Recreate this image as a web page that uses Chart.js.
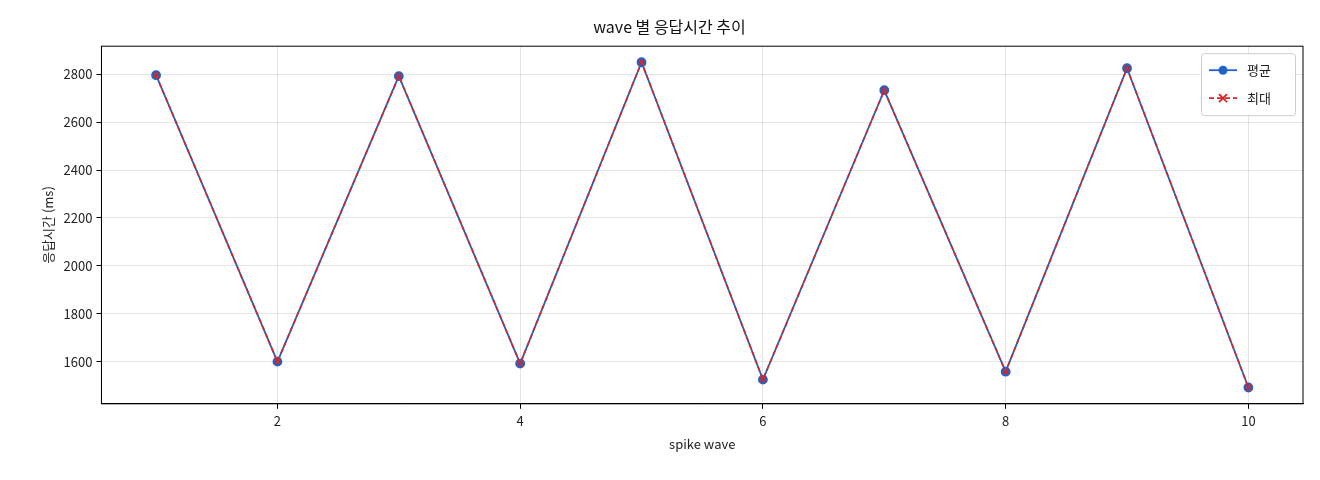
<!DOCTYPE html>
<html><head><meta charset="utf-8">
<script src="https://cdn.jsdelivr.net/npm/chart.js@4.4.0/dist/chart.umd.min.js"></script>
<style>html,body{margin:0;padding:0;background:#fff}#w{width:1320px;height:480px}</style>
</head><body><div id="w"><canvas id="c" width="1320" height="480"></canvas></div>
<script>
const waves = [1,2,3,4,5,6,7,8,9,10];
const avgMs = [2796,1600,2792,1592,2850,1525,2733,1558,2825,1492];
const maxMs = [2796,1600,2792,1592,2850,1525,2733,1558,2825,1492];
const yTicks = [1600,1800,2000,2200,2400,2600,2800];
const xTicks = [2,4,6,8,10];
const FONT = "'Noto Sans CJK KR','Noto Sans',sans-serif";
Chart.defaults.font.family = FONT;
Chart.defaults.color = '#222';
const legendPlugin = {
  id:'inLegend',
  afterDraw(ch){
    const ctx=ch.ctx, a=ch.chartArea;
    const x=a.right-102, y=a.top+7, w=94, h=62;
    ctx.save();
    ctx.fillStyle='rgba(255,255,255,0.85)';ctx.strokeStyle='#ccc';ctx.lineWidth=1;
    ctx.beginPath();ctx.roundRect(x+.5,y+.5,w,h,3);ctx.fill();ctx.stroke();
    const items=[['평균','#1f63c6',[],'circle'],['최대','#d62728',[5,3],'x']];
    items.forEach((it,i)=>{
      const cy=y+17+i*28;
      ctx.strokeStyle=it[1];ctx.lineWidth=1.8;ctx.setLineDash(it[2]);
      ctx.beginPath();ctx.moveTo(x+8,cy);ctx.lineTo(x+36,cy);ctx.stroke();ctx.setLineDash([]);
      if(it[3]==='circle'){ctx.fillStyle=it[1];ctx.beginPath();ctx.arc(x+22,cy,4.5,0,7);ctx.fill();}
      else{ctx.beginPath();ctx.moveTo(x+18,cy-4);ctx.lineTo(x+26,cy+4);ctx.moveTo(x+26,cy-4);ctx.lineTo(x+18,cy+4);ctx.stroke();}
      ctx.fillStyle='#222';ctx.font='13px '+FONT;ctx.textBaseline='middle';ctx.fillText(it[0],x+46,cy);
    });
    ctx.restore();
  }
};
new Chart(document.getElementById('c'),{
  type:'line',
  data:{datasets:[
    {label:'평균',order:1,data:waves.map((x,i)=>({x,y:avgMs[i]})),borderColor:'#1f63c6',backgroundColor:'#1f63c6',borderWidth:1.8,pointRadius:4,pointStyle:'circle',tension:0},
    {label:'최대',order:0,data:waves.map((x,i)=>({x,y:maxMs[i]})),borderColor:'#d62728',backgroundColor:'#d62728',borderWidth:1.6,borderDash:[5,3],pointRadius:4,pointStyle:'crossRot',pointBorderWidth:1.6,tension:0}
  ]},
  options:{responsive:false,animation:false,
    layout:{padding:{left:36,right:17,top:7,bottom:24}},
    plugins:{legend:{display:false},tooltip:{enabled:false},
      title:{display:true,text:'wave 별 응답시간 추이',font:{size:16,weight:'normal'},color:'#111',padding:{top:10,bottom:10}}},
    scales:{
      x:{type:'linear',min:0.55,max:10.45,
        afterBuildTicks(s){s.ticks=xTicks.map(v=>({value:v}));},
        grid:{color:'rgba(0,0,0,0.1)',drawTicks:true,tickColor:'#000',tickLength:5},
        border:{color:'#000'},
        ticks:{font:{size:13},color:'#222',padding:4,callback:v=>String(v)},
        title:{display:true,text:'spike wave',font:{size:13},color:'#222'}},
      y:{min:1424,max:2917,
        afterBuildTicks(s){s.ticks=yTicks.map(v=>({value:v}));},
        grid:{color:'rgba(0,0,0,0.1)',tickColor:'#000',tickLength:5},
        border:{color:'#000'},
        ticks:{font:{size:13},color:'#222',padding:4,callback:v=>String(v)},
        title:{display:true,text:'응답시간 (ms)',font:{size:13},color:'#222'}}
    }
  },
  plugins:[legendPlugin,{id:'frame',afterDraw(ch){const c=ch.ctx,a=ch.chartArea;c.save();c.strokeStyle='#000';c.lineWidth=1;c.strokeRect(a.left,a.top,a.right-a.left,a.bottom-a.top);c.restore();}}]
});
</script></body></html>
